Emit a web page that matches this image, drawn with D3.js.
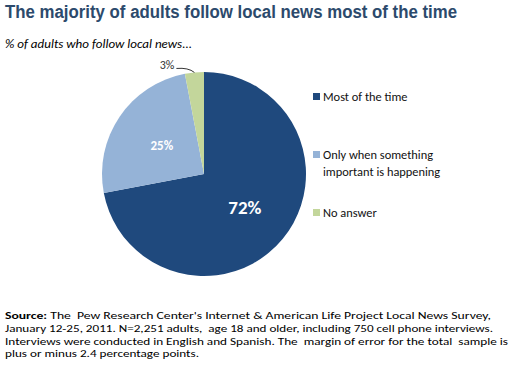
<!DOCTYPE html>
<html><head><meta charset="utf-8">
<script src="https://cdn.jsdelivr.net/npm/d3@7"></script>
<style>body{margin:0;background:#fff;}svg{display:block;}</style>
</head><body>
<script>
const categories = ["Most of the time", "Only when something important is happening", "No answer"];
const legendLines = [["Most of the time"], ["Only when something", "important is happening"], ["No answer"]];
const values = [72, 25, 3];
const labels = ["72%", "25%", "3%"];
const colors = ["#1f497d", "#95b3d7", "#c3d69b"];
const title = "The majority of adults follow local news most of the time";
const subtitle = "% of adults who follow local news...";
const sourceLines = [
  ["Source:", " The  Pew Research Center's Internet & American Life Project Local News Survey,"],
  ["", "January 12-25, 2011. N=2,251 adults,  age 18 and older, including 750 cell phone interviews."],
  ["", "Interviews were conducted in English and Spanish. The  margin of error for the total  sample is"],
  ["", "plus or minus 2.4 percentage points."]
];
const sourceWidths = [486, 488, 503, 194];

const W = 521, H = 366;
const svg = d3.select("body").append("svg").attr("width", W).attr("height", H);
const font = "Carlito, Lato, 'Open Sans', sans-serif";

svg.append("text").attr("x", 5).attr("y", 18)
  .attr("font-family", "Arial, 'Liberation Sans', sans-serif").attr("font-weight", "bold")
  .attr("font-size", 18).attr("fill", "#2c4a6c")
  .attr("textLength", 452).attr("lengthAdjust", "spacingAndGlyphs").text(title);
svg.append("text").attr("x", 5).attr("y", 48)
  .attr("font-family", font).attr("font-style", "italic")
  .attr("font-size", 12.2).attr("fill", "#000")
  .attr("textLength", 187).attr("lengthAdjust", "spacingAndGlyphs").text(subtitle);

const cx = 204, cy = 174, r = 102;
const pie = d3.pie().sort(null).value(d => d)(values);
const arc = d3.arc().innerRadius(0).outerRadius(r);
const g = svg.append("g").attr("transform", `translate(${cx},${cy})`);
g.selectAll("path").data(pie).join("path").attr("d", arc).attr("fill", (d, i) => colors[i]);

const c0 = d3.arc().innerRadius(r*0.52).outerRadius(r*0.52).centroid(pie[0]);
g.append("text").attr("x", c0[0]).attr("y", c0[1]).attr("text-anchor", "middle").attr("dy", "0.35em")
  .attr("font-family", font).attr("font-weight", "bold").attr("font-size", 19).attr("fill", "#fff").text(labels[0]);
const c1 = d3.arc().innerRadius(r*0.5).outerRadius(r*0.5).centroid(pie[1]);
g.append("text").attr("x", c1[0]).attr("y", c1[1]).attr("text-anchor", "middle").attr("dy", "0.35em")
  .attr("font-family", font).attr("font-weight", "bold").attr("font-size", 13).attr("fill", "#fff").text(labels[1]);
const midA = (pie[2].startAngle + pie[2].endAngle) / 2;
const px = Math.sin(midA) * r, py = -Math.cos(midA) * r;
g.append("path").attr("d", `M${px - 18},${py - 4} Q${px - 6},${py - 5} ${px},${py}`)
  .attr("fill", "none").attr("stroke", "#000").attr("stroke-width", 0.8);
g.append("text").attr("x", px - 20).attr("y", py - 3).attr("text-anchor", "end")
  .attr("font-family", font).attr("font-size", 12).attr("fill", "#333").text(labels[2]);

const legY = [97, 155, 213];
const leg = svg.append("g");
legendLines.forEach((lines, i) => {
  leg.append("rect").attr("x", 313).attr("y", legY[i] - 4).attr("width", 7).attr("height", 7).attr("fill", colors[i]);
  lines.forEach((t, j) => {
    leg.append("text").attr("x", 323).attr("y", legY[i] + 4 + j * 16.5)
      .attr("font-family", font).attr("font-size", 12.4).attr("fill", "#111").text(t);
  });
});

sourceLines.forEach((l, i) => {
  const t = svg.append("text").attr("x", 5).attr("y", 319 + i * 12.8)
    .attr("font-family", font).attr("font-size", 10.6).attr("fill", "#000").attr("xml:space", "preserve")
    .attr("textLength", sourceWidths[i]).attr("lengthAdjust", "spacingAndGlyphs");
  if (l[0]) t.append("tspan").attr("font-weight", "bold").text(l[0]);
  t.append("tspan").text(l[1]);
});
</script>
</body></html>
